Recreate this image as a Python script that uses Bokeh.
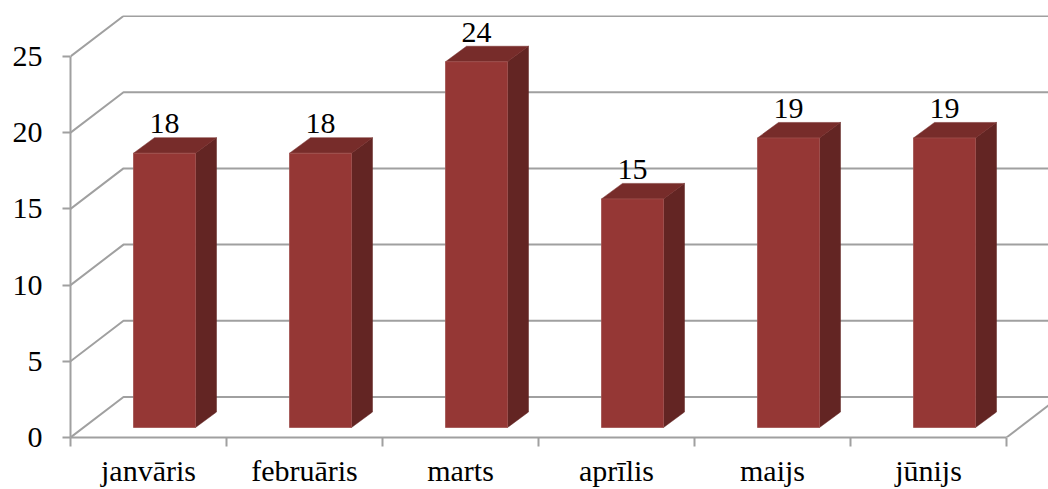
from bokeh.plotting import figure
from bokeh.models import FixedTicker, Range1d, LinearAxis
from bokeh.embed import file_html
from bokeh.resources import INLINE
from bokeh.core.properties import value

# ---------------- data ----------------
categories = ["janvāris", "februāris", "marts", "aprīlis", "maijs", "jūnijs"]
values = [18, 18, 24, 15, 19, 19]
y_ticks = [0, 5, 10, 15, 20, 25]

# ---------------- layout / projection constants ----------------
W, H = 1048, 489
B_LEFT, B_TOP, B_BOTTOM = 70, 15, 52
PX_UNIT = 15.24          # pixels per value unit
PX_CAT = 156.0           # pixels per category
y_max = (H - B_TOP - B_BOTTOM) / PX_UNIT
x_max = (W - B_LEFT) / PX_CAT

DEPTH_X, DEPTH_Y = 53 / PX_CAT, 40.5 / PX_UNIT      # wall depth
BAR_OX, BAR_OY = 16 / PX_CAT, 10 / PX_UNIT          # bar front offset
BAR_W = 62 / PX_CAT
BAR_DX, BAR_DY = 21 / PX_CAT, 15.5 / PX_UNIT        # bar depth
LABEL_GAP = 14 / PX_UNIT

GRID = "#a0a0a0"
FRONT, SIDE, TOPC = "#953735", "#632523", "#772c2a"
FONT = "Liberation Serif"
FS = "30px"

n = len(categories)

p = figure(width=W, height=H, x_range=Range1d(0, x_max), y_range=Range1d(0, y_max),
           output_backend="svg", toolbar_location=None,
           x_axis_type=None, y_axis_type=None,
           min_border_left=B_LEFT, min_border_right=0, min_border_top=B_TOP,
           min_border_bottom=B_BOTTOM, outline_line_color=None,
           background_fill_color="white", border_fill_color="white")
p.xgrid.visible = False
p.ygrid.visible = False

# ---------------- walls / gridlines ----------------
gx, gy = [], []
for v in y_ticks:
    gx.append([0, DEPTH_X, n + DEPTH_X])
    gy.append([v, v + DEPTH_Y, v + DEPTH_Y])
gx.append([n, n + DEPTH_X])
gy.append([0, DEPTH_Y])
p.multi_line(gx, gy, line_color=GRID, line_width=2)

# ---------------- bars ----------------
lefts = [i + 0.5 + BAR_OX - BAR_W / 2 for i in range(n)]
rights = [l + BAR_W for l in lefts]
tops = [v + BAR_OY for v in values]

side_x = [[r, r + BAR_DX, r + BAR_DX, r] for r in rights]
side_y = [[BAR_OY, BAR_OY + BAR_DY, t + BAR_DY, t] for t in tops]
top_x = [[l, l + BAR_DX, r + BAR_DX, r] for l, r in zip(lefts, rights)]
top_y = [[t, t + BAR_DY, t + BAR_DY, t] for t in tops]

p.patches(side_x, side_y, fill_color=SIDE, line_color=SIDE, line_width=0.5)
p.patches(top_x, top_y, fill_color=TOPC, line_color=TOPC, line_width=0.5)
p.quad(left=lefts, right=rights, bottom=[BAR_OY] * n, top=tops,
       fill_color=FRONT, line_color="#a0504e", line_width=0.8)

# value labels
p.text(x=[i + 0.5 + BAR_OX for i in range(n)],
       y=[t + BAR_DY + LABEL_GAP for t in tops],
       text=[str(v) for v in values],
       text_font=value(FONT), text_font_size=FS, text_color="black",
       text_align="center", text_baseline="alphabetic")

# ---------------- axes ----------------
yax = LinearAxis(ticker=FixedTicker(ticks=y_ticks, minor_ticks=[]), bounds=(0, 25))
yax.axis_line_color = GRID
yax.axis_line_width = 2
yax.major_tick_line_color = GRID
yax.major_tick_line_width = 2
yax.major_tick_in = 0
yax.major_tick_out = 8
yax.minor_tick_out = 0
yax.major_label_standoff = 20
yax.major_label_text_font = FONT
yax.major_label_text_font_size = FS
yax.major_label_text_color = "black"
p.add_layout(yax, "left")

cat_pos = [i + 0.5 for i in range(n)]
xax = LinearAxis(ticker=FixedTicker(ticks=cat_pos, minor_ticks=list(range(n + 1))),
                 bounds=(0, n))
xax.major_label_overrides = {c: lab for c, lab in zip(cat_pos, categories)}
xax.axis_line_color = GRID
xax.axis_line_width = 2
xax.major_tick_line_color = None
xax.major_tick_in = 0
xax.major_tick_out = 0
xax.minor_tick_line_color = GRID
xax.minor_tick_line_width = 2
xax.minor_tick_in = 0
xax.minor_tick_out = 9
xax.major_label_standoff = 7
xax.major_label_text_font = FONT
xax.major_label_text_font_size = FS
xax.major_label_text_color = "black"
p.add_layout(xax, "below")

open("out.html", "w").write(file_html(p, INLINE))
